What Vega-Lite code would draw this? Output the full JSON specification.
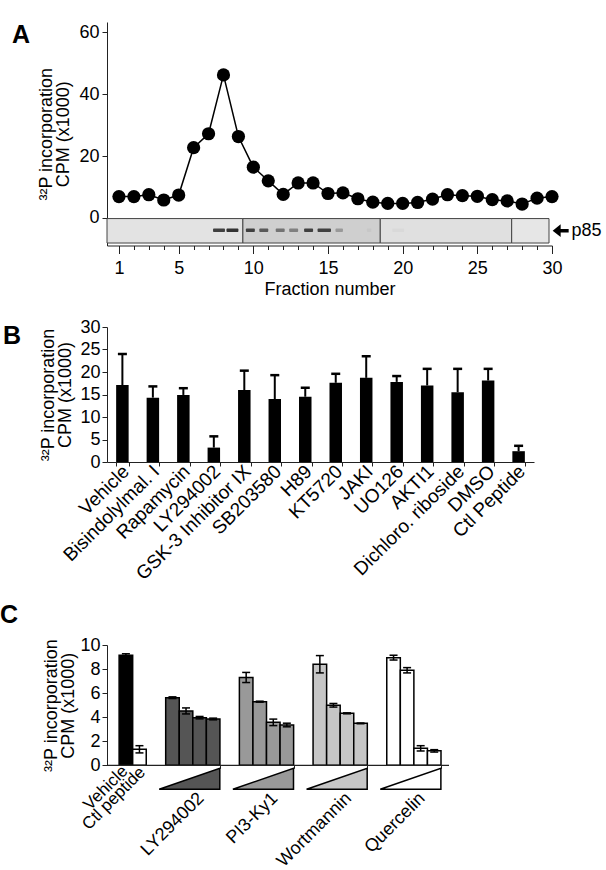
{
  "$schema": "https://vega.github.io/schema/vega-lite/v6.json",
  "background": "white",
  "padding": {"left": 0, "top": 22, "right": 0, "bottom": 0},
  "columns": 1,
  "align": "none",
  "spacing": 19,
  "config": {
    "view": {"stroke": null},
    "font": "Liberation Sans",
    "axis": {"grid": false, "labelOverlap": false, "labelColor": "black", "titleColor": "black", "domainColor": "#222", "tickColor": "#222", "titleFontWeight": "normal", "labelFont": "Liberation Sans", "titleFont": "Liberation Sans"}
  },
  "datasets": {
    "profile": [
      {"fraction": 1, "cpm": 6.9}, {"fraction": 2, "cpm": 6.9}, {"fraction": 3, "cpm": 7.5}, {"fraction": 4, "cpm": 5.8}, {"fraction": 5, "cpm": 7.4},
      {"fraction": 6, "cpm": 22.7}, {"fraction": 7, "cpm": 27.2}, {"fraction": 8, "cpm": 46.2}, {"fraction": 9, "cpm": 26.3}, {"fraction": 10, "cpm": 16.4},
      {"fraction": 11, "cpm": 12.0}, {"fraction": 12, "cpm": 7.6}, {"fraction": 13, "cpm": 11.3}, {"fraction": 14, "cpm": 11.3}, {"fraction": 15, "cpm": 7.9},
      {"fraction": 16, "cpm": 8.1}, {"fraction": 17, "cpm": 6.2}, {"fraction": 18, "cpm": 5.1}, {"fraction": 19, "cpm": 4.7}, {"fraction": 20, "cpm": 4.7},
      {"fraction": 21, "cpm": 5.0}, {"fraction": 22, "cpm": 6.1}, {"fraction": 23, "cpm": 7.5}, {"fraction": 24, "cpm": 7.2}, {"fraction": 25, "cpm": 7.0},
      {"fraction": 26, "cpm": 5.9}, {"fraction": 27, "cpm": 5.5}, {"fraction": 28, "cpm": 4.5}, {"fraction": 29, "cpm": 6.4}, {"fraction": 30, "cpm": 6.9}
    ],
    "blot": [
      {"from": 0.2, "to": 9.3, "density": 0.11},
      {"from": 9.3, "to": 18.5, "density": 0.19},
      {"from": 18.5, "to": 27.3, "density": 0.12},
      {"from": 27.3, "to": 29.8, "density": 0.1}
    ],
    "bands": [
      {"from": 7.3, "to": 8.1, "density": 0.75},
      {"from": 8.2, "to": 9.0, "density": 0.8},
      {"from": 9.5, "to": 10.1, "density": 0.75},
      {"from": 10.4, "to": 11.0, "density": 0.65},
      {"from": 11.5, "to": 12.1, "density": 0.55},
      {"from": 12.4, "to": 13.0, "density": 0.5},
      {"from": 13.4, "to": 14.0, "density": 0.75},
      {"from": 14.3, "to": 15.2, "density": 0.75},
      {"from": 15.5, "to": 16.0, "density": 0.4},
      {"from": 17.6, "to": 17.9, "density": 0.22},
      {"from": 19.3, "to": 20.1, "density": 0.15}
    ],
    "screen": [
      {"treatment": "Vehicle", "mean": 17.1, "upper": 24.0},
      {"treatment": "Bisindolylmal. I", "mean": 14.3, "upper": 16.8},
      {"treatment": "Rapamycin", "mean": 14.9, "upper": 16.4},
      {"treatment": "LY294002", "mean": 3.2, "upper": 5.7},
      {"treatment": "GSK-3 Inhibitor IX", "mean": 16.0, "upper": 20.3},
      {"treatment": "SB203580", "mean": 14.0, "upper": 19.3},
      {"treatment": "H89", "mean": 14.5, "upper": 16.5},
      {"treatment": "KT5720", "mean": 17.6, "upper": 19.6},
      {"treatment": "JAKI", "mean": 18.7, "upper": 23.5},
      {"treatment": "UO126", "mean": 17.8, "upper": 19.1},
      {"treatment": "AKTI1", "mean": 17.0, "upper": 20.7},
      {"treatment": "Dichloro. riboside", "mean": 15.5, "upper": 20.7},
      {"treatment": "DMSO", "mean": 18.1, "upper": 20.7},
      {"treatment": "Ctl Peptide", "mean": 2.4, "upper": 3.6}
    ],
    "dose": [
      {"group": "Control", "treatment": "Vehicle", "slot": 3, "mean": 9.15, "low": 9.03, "high": 9.27},
      {"group": "Control", "treatment": "Ctl peptide", "slot": 4, "mean": 1.33, "low": 1.03, "high": 1.63},
      {"group": "LY294002", "treatment": "LY294002", "slot": 1, "mean": 5.62, "low": 5.55, "high": 5.69},
      {"group": "LY294002", "treatment": "LY294002", "slot": 2, "mean": 4.52, "low": 4.27, "high": 4.77},
      {"group": "LY294002", "treatment": "LY294002", "slot": 3, "mean": 3.96, "low": 3.86, "high": 4.06},
      {"group": "LY294002", "treatment": "LY294002", "slot": 4, "mean": 3.85, "low": 3.78, "high": 3.92},
      {"group": "PI3-Ky1", "treatment": "PI3-Ky1", "slot": 1, "mean": 7.3, "low": 6.88, "high": 7.72},
      {"group": "PI3-Ky1", "treatment": "PI3-Ky1", "slot": 2, "mean": 5.29, "low": 5.25, "high": 5.33},
      {"group": "PI3-Ky1", "treatment": "PI3-Ky1", "slot": 3, "mean": 3.57, "low": 3.3, "high": 3.84},
      {"group": "PI3-Ky1", "treatment": "PI3-Ky1", "slot": 4, "mean": 3.35, "low": 3.2, "high": 3.5},
      {"group": "Wortmannin", "treatment": "Wortmannin", "slot": 1, "mean": 8.4, "low": 7.68, "high": 9.12},
      {"group": "Wortmannin", "treatment": "Wortmannin", "slot": 2, "mean": 4.99, "low": 4.84, "high": 5.14},
      {"group": "Wortmannin", "treatment": "Wortmannin", "slot": 3, "mean": 4.32, "low": 4.28, "high": 4.36},
      {"group": "Wortmannin", "treatment": "Wortmannin", "slot": 4, "mean": 3.49, "low": 3.46, "high": 3.52},
      {"group": "Quercelin", "treatment": "Quercelin", "slot": 1, "mean": 8.95, "low": 8.75, "high": 9.15},
      {"group": "Quercelin", "treatment": "Quercelin", "slot": 2, "mean": 7.9, "low": 7.68, "high": 8.12},
      {"group": "Quercelin", "treatment": "Quercelin", "slot": 3, "mean": 1.41, "low": 1.19, "high": 1.63},
      {"group": "Quercelin", "treatment": "Quercelin", "slot": 4, "mean": 1.2, "low": 1.1, "high": 1.3}
    ],
    "wedges": [
      {"group": "LY294002", "treatment": "LY294002"},
      {"group": "PI3-Ky1", "treatment": "PI3-Ky1"},
      {"group": "Wortmannin", "treatment": "Wortmannin"},
      {"group": "Quercelin", "treatment": "Quercelin"}
    ]
  },
  "concat": [
    {
      "title": {"text": "A", "anchor": "start", "frame": "group", "offset": -26, "dx": -95, "fontSize": 25, "fontWeight": "bold", "font": "Liberation Sans", "color": "black"},
      "width": 445,
      "height": 223.5,
      "layer": [
        {
          "data": {"name": "blot"},
          "mark": {"type": "rect", "stroke": "#444", "strokeWidth": 1},
          "encoding": {
            "x": {"field": "from", "type": "quantitative", "scale": {"domain": [0.2, 30], "nice": false, "zero": false},
              "axis": {"values": [1,2,3,4,5,6,7,8,9,10,11,12,13,14,15,16,17,18,19,20,21,22,23,24,25,26,27,28,29,30],
                "tickCount": 100, "format": "d",
                "labelExpr": "indexof([1,5,10,15,20,25,30], datum.value) >= 0 ? datum.label : ''",
                "tickSize": {"condition": {"test": "indexof([1,5,10,15,20,25,30], datum.value) >= 0", "value": 8}, "value": 4},
                "labelFontSize": 18,
                "labelPadding": 6, "labelFlush": false, "labelOverlap": false, "labelBound": false,
                "title": "Fraction number", "titleFontSize": 18, "titlePadding": 3}},
            "x2": {"field": "to"},
            "y": {"datum": -0.2, "type": "quantitative", "scale": {"domain": [-8.9, 63.3], "nice": false, "zero": false},
              "axis": {"values": [0, 20, 40, 60], "tickCount": 100, "format": "d", "tickSize": 5, "labelFontSize": 18, "labelPadding": 3, "labelOverlap": false,
                "title": ["³²P incorporation", "CPM (x1000)"], "titleFontSize": 18, "titleLineHeight": 17, "titlePadding": 6}},
            "y2": {"datum": -8.1},
            "color": {"field": "density", "type": "quantitative", "scale": {"domain": [0, 1], "range": ["#ffffff", "#000000"], "interpolate": "rgb"}, "legend": null}
          }
        },
        {
          "data": {"name": "bands"},
          "mark": {"type": "rect", "cornerRadius": 1},
          "encoding": {
            "x": {"field": "from", "type": "quantitative"},
            "x2": {"field": "to"},
            "y": {"datum": -3.4, "type": "quantitative"},
            "y2": {"datum": -4.5},
            "color": {"field": "density", "type": "quantitative", "legend": null}
          }
        },
        {
          "data": {"name": "profile"},
          "mark": {"type": "line", "color": "black", "strokeWidth": 1.5},
          "encoding": {
            "x": {"field": "fraction", "type": "quantitative"},
            "y": {"field": "cpm", "type": "quantitative"}
          }
        },
        {
          "data": {"name": "profile"},
          "mark": {"type": "point", "filled": true, "color": "black", "opacity": 1, "size": 175, "shape": "circle"},
          "encoding": {
            "x": {"field": "fraction", "type": "quantitative"},
            "y": {"field": "cpm", "type": "quantitative"}
          }
        },
        {
          "data": {"values": [{"protein": "p85"}]},
          "mark": {"type": "point", "filled": true, "color": "black", "opacity": 1, "size": 256, "shape": "M -1 0 L 0 -0.8 L 0 -0.22 L 1 -0.22 L 1 0.22 L 0 0.22 L 0 0.8 Z"},
          "encoding": {
            "x": {"datum": 30.58, "type": "quantitative"},
            "y": {"datum": -4.1, "type": "quantitative"}
          }
        },
        {
          "data": {"values": [{"protein": "p85"}]},
          "mark": {"type": "text", "align": "left", "baseline": "middle", "fontSize": 18, "color": "black"},
          "encoding": {
            "x": {"datum": 31.3, "type": "quantitative"},
            "y": {"datum": -4.1, "type": "quantitative"},
            "text": {"field": "protein"}
          }
        }
      ]
    },
    {
      "title": {"text": "B", "anchor": "start", "frame": "group", "offset": -31, "dx": -104, "fontSize": 25, "fontWeight": "bold", "font": "Liberation Sans", "color": "black"},
      "data": {"name": "screen"},
      "width": 427,
      "height": 135,
      "encoding": {
        "x": {"field": "treatment", "type": "nominal", "sort": null, "scale": {"paddingInner": 0.59, "paddingOuter": 0.3},
          "axis": {"title": null, "labelAngle": -45, "labelAlign": "right", "labelBaseline": "middle", "labelFontSize": 19, "labelPadding": 2, "labelOffset": 3, "tickBand": "extent", "tickSize": 4, "labelOverlap": false}}
      },
      "layer": [
        {
          "mark": {"type": "rule", "color": "black", "strokeWidth": 2},
          "encoding": {
            "y": {"field": "mean", "type": "quantitative", "scale": {"domain": [0, 30], "nice": false},
              "axis": {"values": [0, 5, 10, 15, 20, 25, 30], "tickCount": 100, "format": "d", "tickSize": 5, "labelFontSize": 18, "labelPadding": 2, "labelOverlap": false,
                "title": ["³²P incorporation", "CPM (x1000)"], "titleFontSize": 18, "titleLineHeight": 17, "titlePadding": 5}},
            "y2": {"field": "upper"}
          }
        },
        {
          "mark": {"type": "tick", "color": "black", "thickness": 2.5, "size": 9, "opacity": 1},
          "encoding": {"y": {"field": "upper", "type": "quantitative"}}
        },
        {
          "mark": {"type": "bar", "color": "black"},
          "encoding": {"y": {"field": "mean", "type": "quantitative"}}
        }
      ]
    },
    {
      "title": {"text": "C", "anchor": "start", "frame": "group", "offset": 8, "dx": -107, "fontSize": 25, "fontWeight": "bold", "font": "Liberation Sans", "color": "black"},
      "width": 342,
      "height": 120.3,
      "layer": [
        {
          "data": {"name": "dose"},
          "mark": {"type": "bar", "stroke": "black", "strokeWidth": 1.5},
          "encoding": {
            "x": {"field": "group", "type": "nominal", "sort": null,
              "scale": {"domain": ["Control", "LY294002", "PI3-Ky1", "Wortmannin", "Quercelin"], "range": [-15, 334], "paddingInner": 0.264, "paddingOuter": 0},
              "axis": {"title": null, "domain": false, "tickBand": "extent", "tickSize": 3, "labelOverlap": false,
                "tickOpacity": {"condition": {"test": "datum.value == 'Control'", "value": 0}, "value": 1},
                "labelExpr": "datum.value == 'Control' ? '' : datum.label",
                "labelAngle": -45, "labelAlign": "right", "labelBaseline": "middle", "labelFontSize": 18,
                "labelPadding": 27, "labelOffset": 8}},
            "xOffset": {"field": "slot", "type": "ordinal", "scale": {"domain": [1, 2, 3, 4], "paddingInner": 0, "paddingOuter": 0}},
            "y": {"field": "mean", "type": "quantitative", "scale": {"domain": [0, 10], "nice": false},
              "axis": {"values": [0, 2, 4, 6, 8, 10], "tickCount": 100, "format": "d", "tickSize": 5, "labelFontSize": 18, "labelPadding": 2, "labelOverlap": false,
                "title": ["³²P incorporation", "CPM (x1000)"], "titleFontSize": 18, "titleLineHeight": 17, "titlePadding": 2}},
            "color": {"field": "treatment", "type": "nominal",
              "scale": {"domain": ["Vehicle", "Ctl peptide", "LY294002", "PI3-Ky1", "Wortmannin", "Quercelin"], "range": ["#000000", "#ffffff", "#555555", "#999999", "#c6c6c6", "#ffffff"]},
              "legend": null}
          }
        },
        {
          "data": {"name": "dose"},
          "mark": {"type": "rule", "color": "black", "strokeWidth": 1.5},
          "encoding": {
            "x": {"field": "group", "type": "nominal", "sort": null},
            "xOffset": {"field": "slot", "type": "ordinal"},
            "y": {"field": "low", "type": "quantitative"},
            "y2": {"field": "high"}
          }
        },
        {
          "data": {"name": "dose"},
          "mark": {"type": "tick", "color": "black", "thickness": 1.5, "size": 8, "opacity": 1},
          "encoding": {
            "x": {"field": "group", "type": "nominal", "sort": null},
            "xOffset": {"field": "slot", "type": "ordinal"},
            "y": {"field": "low", "type": "quantitative"}
          }
        },
        {
          "data": {"name": "dose"},
          "mark": {"type": "tick", "color": "black", "thickness": 1.5, "size": 8, "opacity": 1},
          "encoding": {
            "x": {"field": "group", "type": "nominal", "sort": null},
            "xOffset": {"field": "slot", "type": "ordinal"},
            "y": {"field": "high", "type": "quantitative"}
          }
        },
        {
          "data": {"name": "dose"},
          "transform": [{"filter": "datum.treatment == 'Vehicle'"}],
          "mark": {"type": "text", "angle": 315, "align": "right", "baseline": "middle", "fontSize": 17, "color": "black", "dx": 1, "dy": -2},
          "encoding": {
            "x": {"field": "group", "type": "nominal", "sort": null},
            "xOffset": {"field": "slot", "type": "ordinal"},
            "y": {"datum": -0.45, "type": "quantitative"},
            "text": {"field": "treatment"}
          }
        },
        {
          "data": {"name": "dose"},
          "transform": [{"filter": "datum.treatment == 'Ctl peptide'"}],
          "mark": {"type": "text", "angle": 315, "align": "right", "baseline": "middle", "fontSize": 17, "color": "black", "dx": 3, "dy": 1.5},
          "encoding": {
            "x": {"field": "group", "type": "nominal", "sort": null},
            "xOffset": {"field": "slot", "type": "ordinal"},
            "y": {"datum": -0.45, "type": "quantitative"},
            "text": {"field": "treatment"}
          }
        },
        {
          "data": {"name": "wedges"},
          "mark": {"type": "point", "filled": true, "opacity": 1, "stroke": "black", "strokeWidth": 1.5, "size": 900, "shape": "M -2.24 0.7 L 1.8 -0.7 L 1.8 0.7 Z"},
          "encoding": {
            "x": {"field": "group", "type": "nominal", "sort": null},
            "y": {"datum": -1.12, "type": "quantitative"},
            "color": {"field": "treatment", "type": "nominal"}
          }
        },
        {
          "data": {"values": [{"baseline": 0}]},
          "mark": {"type": "rule", "color": "#222", "strokeWidth": 1.2},
          "encoding": {"y": {"field": "baseline", "type": "quantitative"}}
        }
      ]
    }
  ]
}
